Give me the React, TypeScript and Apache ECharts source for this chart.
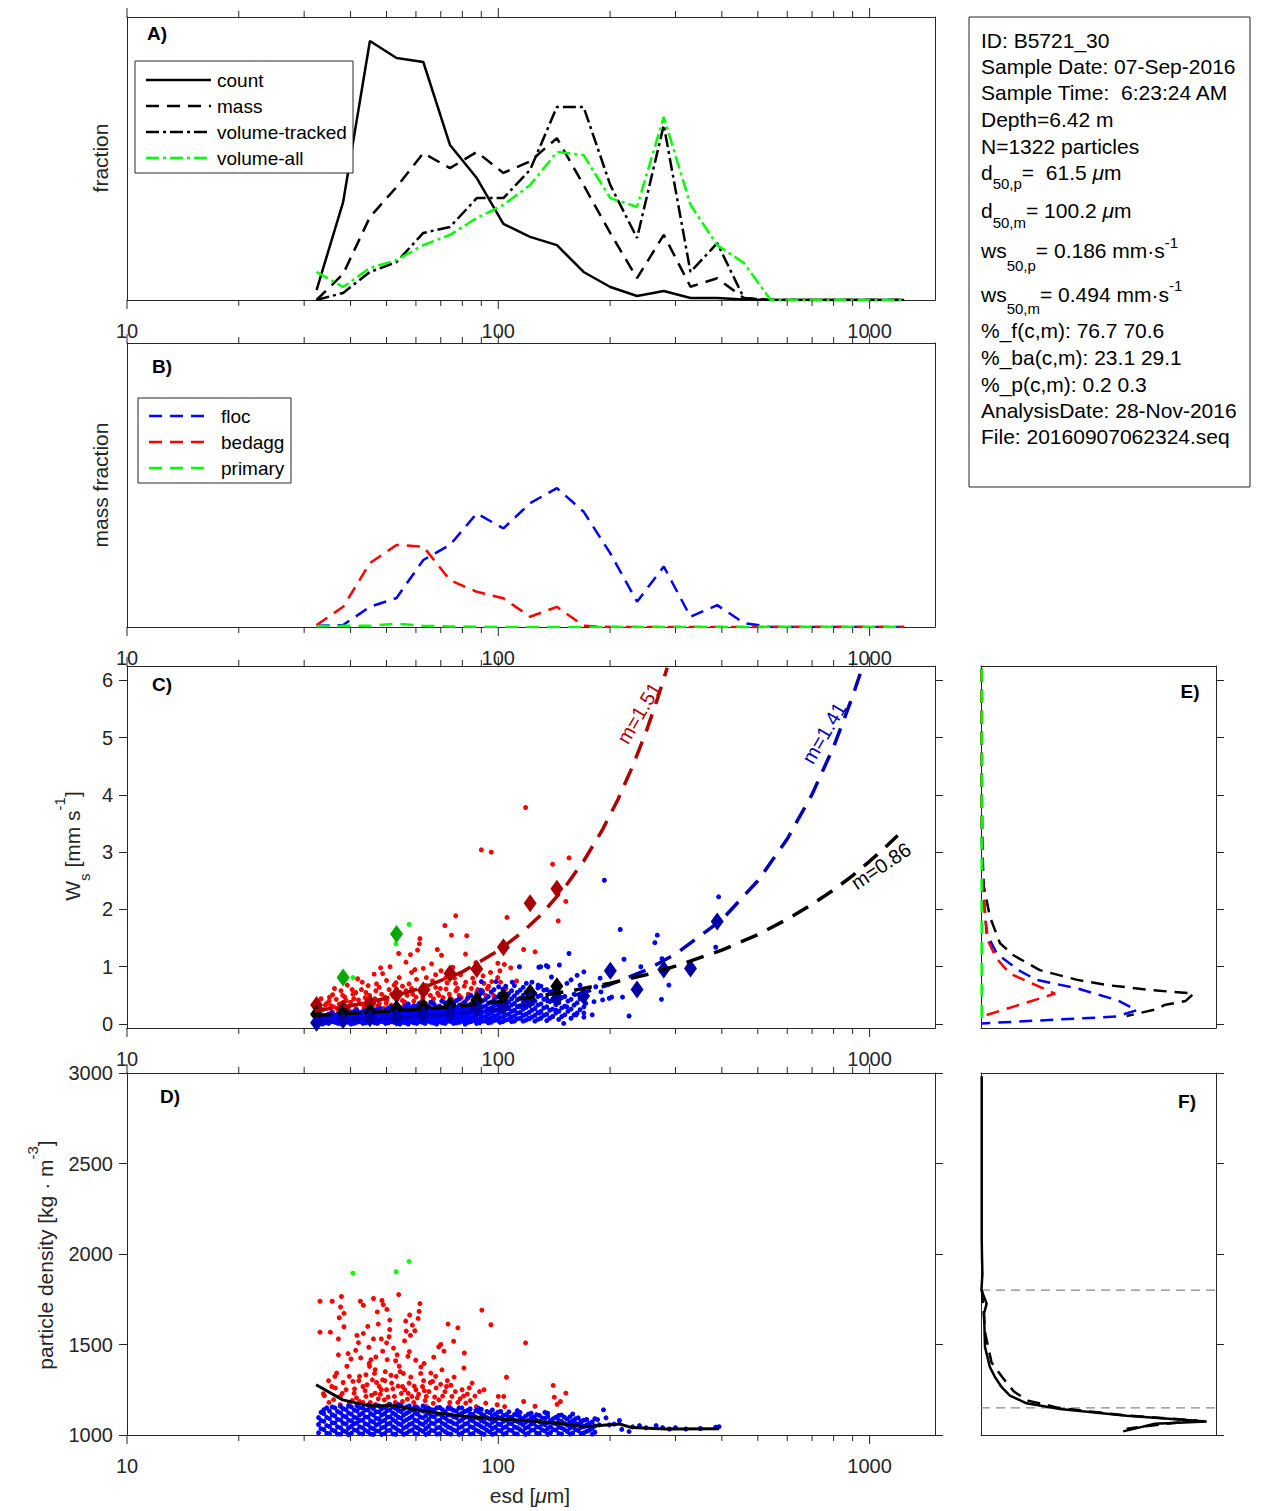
import React, { useEffect, useRef } from "react";
import * as echarts from "echarts";

const FONT = '"Liberation Sans", Arial, Helvetica, sans-serif';
const AX = "#262626";

// ---------------- data ----------------
const binD = [32.4, 38.2, 45.1, 53.2, 62.8, 74.1, 87.5, 103.2, 121.8, 143.8, 169.7, 200.3, 236.4, 279, 329.3, 388.6, 458.6, 541.3, 638.8, 753.9, 889.8, 1050, 1239];
const countFrac = [0.035, 0.346, 0.915, 0.855, 0.841, 0.548, 0.431, 0.269, 0.223, 0.194, 0.099, 0.046, 0.014, 0.032, 0.007, 0.007, 0.002, 0, 0, 0, 0, 0, 0];
const massFrac = [0, 0.092, 0.293, 0.399, 0.519, 0.466, 0.523, 0.449, 0.49, 0.572, 0.406, 0.236, 0.077, 0.23, 0.047, 0.077, 0.007, 0, 0, 0, 0, 0, 0];
const volTrackedFrac = [0, 0.025, 0.099, 0.134, 0.237, 0.258, 0.36, 0.36, 0.46, 0.682, 0.682, 0.406, 0.219, 0.618, 0.099, 0.201, 0.007, 0, 0, 0, 0, 0, 0];
const volAllFrac = [0.099, 0.046, 0.113, 0.141, 0.194, 0.23, 0.29, 0.336, 0.406, 0.523, 0.512, 0.36, 0.329, 0.647, 0.336, 0.194, 0.131, 0, 0, 0, 0, 0, 0];

const flocFrac = [0.004, 0.007, 0.071, 0.102, 0.236, 0.289, 0.4, 0.347, 0.436, 0.489, 0.406, 0.259, 0.089, 0.213, 0.036, 0.077, 0.014, 0, 0, 0, 0, 0, 0];
const bedaggFrac = [0.007, 0.071, 0.225, 0.289, 0.283, 0.165, 0.124, 0.101, 0.036, 0.071, 0.004, 0, 0, 0, 0, 0, 0, 0, 0, 0, 0, 0, 0];
const primaryFrac = [0.003, 0.004, 0.004, 0.012, 0.004, 0.002, 0.001, 0, 0, 0, 0, 0, 0, 0, 0, 0, 0, 0, 0, 0, 0, 0, 0];

// panel C: binned means (diamonds)
const redDiaWs = [0.33, 0.27, 0.36, 0.51, 0.59, 0.88, 0.96, 1.34, 2.11, 2.36];
const blackDiaWs = [0.17, 0.2, 0.21, 0.27, 0.3, 0.33, 0.42, 0.48, 0.55, 0.66];
const blueDiaWs = [0.02, 0.07, 0.1, 0.11, 0.16, 0.19, 0.27, 0.31, 0.42, 0.45, 0.49, 0.93, 0.6, 0.95, 0.97, 1.79];
const greenDia = [[38.2, 0.81], [53.2, 1.57]];

// panel C: fitted curves
const redFit = [[32, 0.23], [40, 0.32], [50, 0.45], [63, 0.64], [80, 0.91], [100, 1.28], [116, 1.6], [130, 1.9], [150, 2.36], [170, 2.85], [190, 3.37], [210, 3.92], [230, 4.5], [250, 5.1], [270, 5.73], [285, 6.22]];
const blueFit = [[32, 0.05], [50, 0.1], [63, 0.135], [80, 0.19], [100, 0.26], [130, 0.37], [160, 0.5], [200, 0.69], [250, 0.94], [300, 1.22], [400, 1.82], [500, 2.5], [600, 3.23], [700, 4.01], [800, 4.84], [900, 5.72], [955, 6.22]];
const blackFit = [[32, 0.15], [50, 0.22], [63, 0.26], [80, 0.32], [100, 0.39], [130, 0.49], [160, 0.59], [200, 0.71], [250, 0.86], [300, 1.01], [400, 1.29], [500, 1.56], [600, 1.83], [700, 2.09], [800, 2.34], [900, 2.59], [1000, 2.84], [1100, 3.08], [1190, 3.29]];

// panel C scatter (esd um, ws mm/s)
const redC = [
  [118.4, 3.78], [90, 3.04], [95.7, 3.0], [140, 2.79], [155, 2.9], [152, 2.14], [145, 1.8], [105.5, 1.86], [117, 1.3], [125.6, 1.26],
  [76.8, 1.89], [71.8, 1.72], [74.8, 1.55], [82.2, 1.54], [81.6, 1.22], [68.5, 1.3], [70.3, 1.2], [61.5, 1.49], [61.3, 1.4], [60.6, 1.29],
  [58, 1.21], [53.9, 1.23], [56.4, 1.08], [59.6, 0.95], [51.1, 1.0], [48.8, 0.88], [46.3, 0.87], [43, 0.73], [40.4, 0.6], [37.7, 0.58],
  [35.8, 0.51], [33.3, 0.44], [87, 1.07], [87.2, 0.99], [99.7, 1.06], [103.8, 1.04], [101, 0.93], [99.6, 0.81], [101.4, 0.73], [91.5, 0.71],
  [81.7, 0.73], [76.7, 0.71], [72.3, 0.81], [66.5, 0.75], [67.8, 0.64], [64, 0.67], [57.5, 0.7], [53.1, 0.61], [50, 0.76], [47.8, 0.64],
  [44, 0.55], [41.3, 0.55], [38.9, 0.41], [37.3, 0.35], [35.1, 0.47], [35.4, 0.32], [33, 0.29], [45.3, 0.38], [49.5, 0.47], [55.2, 0.41],
  [60, 0.47], [69.2, 0.5], [76.9, 0.58], [87.5, 0.55], [90.6, 0.58], [42.5, 0.35], [52.3, 0.26], [57.5, 0.23], [65.2, 0.32], [72.3, 0.35],
  [39.7, 0.23], [35.8, 0.2], [33, 0.19], [46.8, 0.23], [82.5, 0.44], [92.5, 0.5], [54.1, 0.81], [46.8, 0.58], [56.4, 0.58], [64, 0.81],
  [72.3, 0.61], [51.6, 0.52], [38.1, 0.5], [43.3, 0.35], [75.4, 0.99], [34.5, 0.36], [36.8, 0.27], [40.8, 0.44], [43.8, 0.46], [47.3, 0.31],
  [49.9, 0.36], [53.3, 0.44], [55.8, 0.33], [58.8, 0.52], [62.1, 0.39], [63.8, 0.55], [66.9, 0.44], [70.4, 0.4], [74.2, 0.45], [78.4, 0.5],
  [80.2, 0.36], [84.6, 0.62], [88.8, 0.42], [94.2, 0.66], [97.1, 0.5], [48.2, 0.98], [44.6, 0.67], [52.4, 0.68], [58.4, 0.9], [62.8, 0.97],
  [66.1, 1.05], [70.1, 0.93], [79.1, 0.86], [85.3, 0.8], [95.3, 0.9], [104.8, 0.62], [112, 0.75], [108, 0.98], [41.8, 0.79], [39.2, 0.68], [36.2, 0.62],
  [33.6, 0.25], [34.2, 0.33], [35, 0.4], [36, 0.3], [36.6, 0.43], [37.2, 0.25], [38, 0.37], [38.6, 0.47], [39.5, 0.3], [40, 0.38],
  [40.6, 0.52], [41.4, 0.27], [42, 0.42], [42.8, 0.6], [43.5, 0.29], [44.2, 0.39], [45, 0.5], [45.8, 0.28], [46.5, 0.44], [47, 0.7],
  [47.8, 0.36], [48.5, 0.52], [49.2, 0.27], [50, 0.41], [50.8, 0.6], [51.5, 0.33], [52.2, 0.48], [53, 0.72], [53.6, 0.3], [54.4, 0.55],
  [55.2, 0.66], [56, 0.38], [56.8, 0.5], [57.6, 0.3], [58.4, 0.62], [59.2, 0.4], [60.2, 0.78], [61, 0.34], [61.8, 0.58], [62.6, 0.46],
  [63.6, 0.36], [64.6, 0.6], [65.6, 0.5], [66.6, 0.38], [67.8, 0.86], [68.6, 0.54], [69.8, 0.62], [71, 0.46], [72.8, 0.72], [73.8, 0.52],
  [75.2, 0.42], [76.2, 0.8], [77.6, 0.62], [79.4, 0.46], [81, 0.66], [83, 0.52], [86, 0.72], [88, 0.6], [91, 0.84], [93.5, 0.62], [96, 0.74],
];
const greenC = [[40.6, 0.81], [57.5, 1.74], [53, 1.4]];
const blueCCols = [
  [32.5, [0.02, 0.08, 0.14]], [33.6, [0.05, 0.11, 0.0]], [34.9, [0.01, 0.07, 0.13, 0.17]], [36.3, [0.03, 0.1, 0.15]],
  [37.8, [0.0, 0.05, 0.11, 0.17, 0.21]], [39.3, [0.03, 0.08, 0.14, 0.19]], [40.9, [0.01, 0.06, 0.12, 0.16, 0.22]], [42.4, [0.04, 0.09, 0.15, 0.2]],
  [44.0, [0.02, 0.07, 0.12, 0.18, 0.24]], [45.6, [0.05, 0.1, 0.16, 0.21]], [47.2, [0.01, 0.07, 0.13, 0.19, 0.25]], [48.9, [0.04, 0.09, 0.15, 0.21]],
  [50.6, [0.02, 0.06, 0.11, 0.17, 0.23, 0.28]], [52.4, [0.03, 0.08, 0.14, 0.2, 0.26]], [54.3, [0.0, 0.05, 0.1, 0.16, 0.22, 0.29]], [56.2, [0.02, 0.07, 0.13, 0.19, 0.25, 0.32]],
  [58.2, [0.04, 0.09, 0.15, 0.21, 0.28]], [60.3, [0.01, 0.06, 0.12, 0.18, 0.24, 0.31]], [62.4, [0.03, 0.09, 0.15, 0.21, 0.27, 0.34]], [64.7, [0.05, 0.11, 0.17, 0.23, 0.3]],
  [67.0, [0.02, 0.08, 0.14, 0.2, 0.26, 0.35]], [69.4, [0.04, 0.1, 0.17, 0.23, 0.31]], [71.9, [0.01, 0.07, 0.13, 0.2, 0.27, 0.37]], [74.5, [0.04, 0.1, 0.17, 0.24, 0.32]],
  [77.2, [0.02, 0.08, 0.15, 0.22, 0.29, 0.41]], [80.0, [0.05, 0.12, 0.19, 0.26, 0.34]], [82.9, [0.03, 0.09, 0.16, 0.24, 0.31, 0.46]], [85.9, [0.06, 0.13, 0.21, 0.29, 0.39]],
  [89.0, [0.02, 0.09, 0.17, 0.25, 0.36, 0.51]], [92.3, [0.05, 0.13, 0.22, 0.31, 0.43]], [95.7, [0.03, 0.1, 0.19, 0.28, 0.38, 0.56]], [99.2, [0.07, 0.15, 0.24, 0.34, 0.47]],
  [102.8, [0.04, 0.12, 0.21, 0.31, 0.42, 0.61]], [106.6, [0.08, 0.17, 0.27, 0.39, 0.53]], [110.5, [0.05, 0.14, 0.24, 0.36, 0.49, 0.67]], [114.6, [0.1, 0.2, 0.32, 0.45, 0.59]],
  [118.8, [0.07, 0.17, 0.29, 0.41, 0.55]], [123.2, [0.12, 0.24, 0.37, 0.51, 0.73]], [127.8, [0.08, 0.2, 0.33, 0.48, 0.63]], [132.6, [0.15, 0.28, 0.43, 0.59]],
  [137.6, [0.1, 0.24, 0.39, 0.56]], [142.8, [0.19, 0.34, 0.51]], [148.2, [0.13, 0.28, 0.46]], [154, [0.22, 0.4]], [160, [0.16, 0.33, 0.52]], [166, [0.25, 0.44]],
];
const blueCCols2 = [
  [33.0, [0.04, 0.1, 0.16]], [34.2, [0.02, 0.08, 0.14]], [35.6, [0.04, 0.1, 0.16, 0.2]], [37.0, [0.01, 0.07, 0.13, 0.18]],
  [38.5, [0.03, 0.08, 0.14, 0.19]], [40.1, [0.0, 0.05, 0.1, 0.15, 0.2]], [41.6, [0.03, 0.08, 0.13, 0.18, 0.24]], [43.2, [0.01, 0.06, 0.11, 0.17, 0.22]],
  [44.8, [0.04, 0.09, 0.14, 0.2, 0.26]], [46.4, [0.02, 0.08, 0.13, 0.18, 0.24]], [48.0, [0.04, 0.1, 0.16, 0.22, 0.28]], [49.7, [0.01, 0.07, 0.12, 0.18, 0.24]],
  [51.5, [0.04, 0.1, 0.16, 0.22, 0.3]], [53.3, [0.01, 0.06, 0.11, 0.17, 0.23, 0.31]], [55.2, [0.03, 0.08, 0.14, 0.2, 0.26]], [57.2, [0.0, 0.05, 0.1, 0.16, 0.22, 0.29, 0.35]],
  [59.2, [0.02, 0.07, 0.13, 0.19, 0.25, 0.32]], [61.3, [0.04, 0.09, 0.15, 0.21, 0.27, 0.36]], [63.5, [0.01, 0.06, 0.12, 0.18, 0.25, 0.32]], [65.8, [0.03, 0.08, 0.14, 0.2, 0.27, 0.38]],
  [68.2, [0.0, 0.05, 0.11, 0.17, 0.24, 0.3]], [70.6, [0.02, 0.08, 0.15, 0.21, 0.28, 0.4]], [73.2, [0.05, 0.11, 0.18, 0.25, 0.34]], [75.8, [0.01, 0.06, 0.13, 0.2, 0.27, 0.36]],
  [78.6, [0.03, 0.1, 0.17, 0.24, 0.33, 0.44]], [81.4, [0.0, 0.07, 0.14, 0.21, 0.29, 0.39]], [84.4, [0.04, 0.11, 0.19, 0.27, 0.35, 0.5]], [87.4, [0.01, 0.08, 0.16, 0.24, 0.33, 0.44]],
  [90.6, [0.05, 0.13, 0.21, 0.3, 0.4, 0.55]], [94, [0.02, 0.09, 0.17, 0.26, 0.36, 0.48]], [97.4, [0.06, 0.14, 0.23, 0.32, 0.43, 0.6]], [101, [0.03, 0.11, 0.2, 0.29, 0.39, 0.52]],
  [104.7, [0.07, 0.16, 0.26, 0.36, 0.48, 0.66]], [108.6, [0.04, 0.12, 0.22, 0.33, 0.44, 0.58]], [112.5, [0.09, 0.19, 0.3, 0.42, 0.55]], [116.7, [0.05, 0.15, 0.26, 0.38, 0.5, 0.64]],
  [121, [0.09, 0.2, 0.33, 0.46, 0.6]], [125.5, [0.05, 0.15, 0.27, 0.4, 0.53]], [130.2, [0.1, 0.22, 0.35, 0.5, 0.66]], [135, [0.06, 0.17, 0.3, 0.45, 0.6]],
  [140, [0.13, 0.26, 0.41, 0.57]], [145.5, [0.08, 0.22, 0.37, 0.52]], [151, [0.16, 0.31, 0.48]], [157, [0.1, 0.26, 0.43]], [163, [0.19, 0.37]], [170, [0.12, 0.3, 0.48]],
];
const blueCSparse = [
  [193, 2.51], [392, 2.22], [213, 1.65], [268, 1.55], [264, 1.42], [218, 1.13], [155, 1.23], [385, 1.34], [276, 1.14], [242, 1.0],
  [288, 0.68], [275, 0.43], [225, 0.14], [216, 0.47], [202, 0.47], [191, 0.42], [179, 0.16], [170, 0.19], [150, 0.01], [166, 0.68],
  [163, 0.85], [170, 0.91], [188, 0.8], [153, 0.71], [139, 0.82], [130, 1.0], [128, 0.68], [114, 1.0], [119, 0.71], [136, 1.0],
  [146, 1.03], [199, 0.45], [172, 0.36], [162, 0.16], [143, 0.24], [129, 0.19], [140, 0.13], [121, 0.1], [114, 0.3], [153, 0.3],
  [181, 0.39], [189, 0.56], [183, 0.65], [109, 0.73], [134.6, 1.02], [128.6, 0.99], [100.2, 0.65], [98.6, 0.74], [89.5, 0.59], [90, 0.74], [157, 0.77],
];

// panel D scatter (esd um, density kg/m3)
const redD = [
  [33.1, 1739], [35.7, 1739], [37.8, 1765], [37.6, 1707], [38.4, 1672], [37.3, 1648], [38.4, 1598], [37.1, 1531], [37.1, 1443], [33.1, 1568],
  [35.3, 1568], [42.5, 1739], [43.3, 1717], [46.1, 1754], [48.6, 1743], [50.1, 1694], [47.5, 1613], [46.1, 1531], [43.3, 1561], [41.6, 1550],
  [41.3, 1468], [48.4, 1531], [51, 1635], [53.9, 1776], [51, 1583], [50.8, 1543], [50, 1509], [48.8, 1463], [56.3, 1629], [57.7, 1663],
  [59.6, 1576], [60.8, 1644], [61.2, 1683], [61.5, 1726], [58.7, 1607], [56.5, 1574], [57.6, 1461], [57.1, 1435], [53.4, 1443], [44.8, 1485],
  [42.6, 1426], [45.4, 1416], [46.8, 1431], [45, 1380], [46.6, 1361], [50.2, 1416], [54.1, 1380], [59.9, 1413], [61.9, 1376], [73.2, 1613],
  [75.8, 1518], [77.8, 1592], [69.1, 1487], [70, 1500], [71.4, 1463], [81, 1453], [80.8, 1370], [85, 1287], [90.3, 1690], [95.5, 1609],
  [105.2, 1319], [118.4, 1509], [140.5, 1274], [141.5, 1209], [144, 1170], [147, 1185], [152, 1231], [125.6, 1159], [117, 1185], [100, 1213],
  [103.4, 1213], [99.3, 1167], [104, 1157], [91.5, 1250], [89, 1240], [82.5, 1226], [79.9, 1250], [75, 1213], [72.5, 1268], [66.5, 1296],
  [67.8, 1324], [62.5, 1268], [65.8, 1342], [64, 1213], [60, 1250], [57.5, 1287], [55.2, 1268], [53.1, 1324], [51.6, 1287], [50, 1250],
  [48.8, 1305], [47.8, 1268], [45.8, 1305], [44, 1333], [43.2, 1268], [42.3, 1324], [40.6, 1296], [39.7, 1324], [40.9, 1231], [38.9, 1250],
  [37.5, 1213], [36.3, 1324], [36.7, 1342], [35.6, 1268], [33.8, 1228], [34, 1218], [44, 1213], [46.6, 1231], [49.3, 1194], [52.5, 1213],
  [55.2, 1185], [58.5, 1213], [64, 1157], [69.2, 1194], [73.7, 1157], [81.7, 1176], [87.2, 1157], [92.5, 1176], [37.5, 1167], [39.7, 1176],
  [42.3, 1185], [46.6, 1167], [54.1, 1157], [60, 1157], [41.5, 1205], [43.8, 1245], [45.2, 1180], [47, 1290], [48.1, 1225], [50.8, 1170],
  [52, 1255], [54.8, 1230], [56.9, 1198], [58.1, 1320], [59.2, 1180], [61, 1225], [62.9, 1300], [63.5, 1190], [65, 1240], [66.8, 1175],
  [68, 1260], [70.8, 1215], [72.9, 1300], [74, 1180], [76.6, 1240], [78.9, 1200], [84, 1190], [86.5, 1215], [38.2, 1290], [39.1, 1380],
  [40.1, 1420], [44.9, 1395], [49.6, 1350], [52.9, 1410], [55.5, 1340], [63.1, 1395], [67, 1430], [70.5, 1360], [76, 1320], [34.9, 1300],
  [36, 1195], [39.4, 1450], [42, 1510], [44.5, 1600], [47.2, 1680], [49, 1720], [52.2, 1480], [55.9, 1520], [58, 1550],
  [40.4, 1190], [41, 1255], [42.1, 1300], [43.2, 1180], [44.3, 1278], [45.6, 1220], [46.4, 1340], [47.5, 1200], [48.4, 1250], [49.5, 1300],
  [50.5, 1210], [51.4, 1330], [52.8, 1180], [53.7, 1270], [54.4, 1350], [56, 1250], [57.2, 1230], [59.4, 1270], [60.5, 1205], [61.8, 1340],
  [63.2, 1245], [65.6, 1290], [67.4, 1210], [69.9, 1280], [71.8, 1240], [74.5, 1275], [77.8, 1180], [80.6, 1215], [83.5, 1260], [38, 1230],
  [36.4, 1260], [35, 1180],
];
const greenD = [[40.6, 1894], [53.1, 1902], [57.5, 1959]];
const blueDCols = [
  [32.8, [1012, 1058, 1096]], [33.9, [1030, 1075, 1118, 1140]], [35.1, [1008, 1047, 1090, 1132]], [36.3, [1022, 1066, 1105, 1150]],
  [37.6, [1005, 1040, 1083, 1122, 1158]], [38.9, [1018, 1060, 1100, 1140]], [40.2, [1009, 1048, 1078, 1115, 1155]], [41.6, [1025, 1066, 1094, 1133, 1162]],
  [43.1, [1006, 1040, 1082, 1120, 1150]], [44.6, [1018, 1057, 1098, 1138, 1165]], [46.1, [1003, 1035, 1072, 1110, 1145]], [47.7, [1021, 1062, 1090, 1128, 1160]],
  [49.4, [1008, 1044, 1080, 1118, 1152]], [51.1, [1026, 1065, 1100, 1138, 1168]], [52.9, [1004, 1038, 1075, 1112, 1147]], [54.7, [1019, 1057, 1093, 1130, 1163]],
  [56.6, [1009, 1046, 1084, 1120, 1155]], [58.6, [1027, 1064, 1102, 1140]], [60.6, [1006, 1040, 1078, 1116, 1150]], [62.7, [1020, 1058, 1095, 1132, 1160]],
  [64.9, [1010, 1048, 1086, 1122, 1148]], [67.2, [1024, 1062, 1100, 1138]], [69.5, [1007, 1042, 1080, 1115, 1152]], [72.0, [1018, 1056, 1093, 1128]],
  [74.5, [1005, 1038, 1074, 1110, 1145]], [77.1, [1022, 1060, 1096, 1132]], [79.8, [1010, 1046, 1083, 1120, 1150]], [82.6, [1026, 1064, 1100, 1136]],
  [85.5, [1008, 1041, 1078, 1114]], [88.5, [1020, 1057, 1092, 1128, 1148]], [91.6, [1004, 1038, 1073, 1108]], [94.8, [1017, 1052, 1088, 1124]],
  [98.1, [1008, 1043, 1080, 1115]], [101.5, [1023, 1058, 1094, 1130]], [105, [1010, 1046, 1082, 1112]], [108.7, [1025, 1062, 1098]],
  [112.5, [1006, 1040, 1075, 1110, 1135]], [116.4, [1020, 1056, 1090]], [120.5, [1010, 1045, 1080, 1115]], [124.7, [1028, 1063, 1098]],
  [129, [1008, 1042, 1074, 1108]], [133.5, [1022, 1058, 1092, 1125]], [138.2, [1012, 1046, 1080]], [143, [1027, 1062, 1098]],
  [148, [1006, 1040, 1075, 1110]], [153.2, [1020, 1055, 1088]], [158.6, [1010, 1044, 1078, 1116]], [164.2, [1025, 1060, 1095]],
  [170, [1012, 1048, 1082]], [176, [1028, 1064]], [182, [1015, 1050, 1090]],
];
const blueDCols2 = [
  [33.3, [1035, 1080, 1125]], [34.5, [1010, 1052, 1097, 1150]], [35.7, [1028, 1068, 1112, 1155]], [36.9, [1005, 1045, 1086, 1130]],
  [38.2, [1024, 1065, 1105, 1145]], [39.5, [1002, 1038, 1082, 1122, 1160]], [40.9, [1028, 1062, 1098, 1138]], [42.3, [1008, 1045, 1080, 1112, 1150]],
  [43.8, [1026, 1062, 1100, 1138]], [45.3, [1005, 1040, 1078, 1118, 1158]], [46.9, [1022, 1055, 1092, 1128, 1165]], [48.5, [1003, 1040, 1075, 1110, 1145]],
  [50.2, [1024, 1060, 1098, 1135, 1162]], [52, [1006, 1046, 1085, 1120, 1155]], [53.8, [1026, 1062, 1098, 1136, 1168]], [55.6, [1004, 1038, 1075, 1110, 1145]],
  [57.6, [1022, 1058, 1093, 1130, 1160]], [59.6, [1008, 1045, 1082, 1120, 1155]], [61.6, [1028, 1064, 1100, 1138]], [63.8, [1003, 1036, 1072, 1108, 1145]],
  [66, [1026, 1066, 1104, 1140]], [68.3, [1005, 1040, 1078, 1115, 1150]], [70.7, [1028, 1064, 1100, 1140]], [73.2, [1008, 1044, 1078, 1112, 1148]],
  [75.8, [1028, 1064, 1100, 1136]], [78.4, [1004, 1040, 1076, 1112, 1150]], [81.2, [1024, 1060, 1096, 1130]], [84, [1006, 1046, 1082, 1118, 1145]],
  [87, [1028, 1062, 1098, 1135]], [90, [1010, 1046, 1080, 1116, 1142]], [93.2, [1026, 1060, 1096, 1130]], [96.4, [1004, 1036, 1070, 1106, 1138]],
  [99.8, [1026, 1060, 1098, 1126]], [103.2, [1005, 1040, 1076, 1108]], [106.8, [1028, 1064, 1098, 1128]], [110.6, [1008, 1044, 1080, 1114]],
  [114.4, [1030, 1066, 1100, 1125]], [118.4, [1004, 1038, 1070, 1104]], [122.6, [1026, 1060, 1094, 1120]], [126.8, [1010, 1046, 1080, 1112]],
  [131.2, [1028, 1060, 1094]], [135.8, [1004, 1036, 1068, 1102, 1120]], [140.6, [1030, 1066, 1090]], [145.5, [1008, 1044, 1080, 1108]],
  [150.6, [1030, 1064, 1098]], [155.9, [1005, 1038, 1070, 1100]], [161.4, [1030, 1064, 1090]], [167, [1008, 1042, 1076]],
  [173, [1020, 1056, 1086]], [179, [1005, 1040, 1072]],
];
const blueDSparse = [
  [158.5, 1074], [167, 1068], [170, 1046], [176, 1028], [179, 1037], [187, 1056], [192, 1139], [199, 1056], [212, 1080], [215, 1031],
  [225, 1019], [240, 1052], [266, 1052], [277, 1041], [289, 1033], [320, 1033], [385, 1043], [393, 1046], [195, 1095], [205, 1060],
  [185, 1085], [230, 1045], [250, 1040], [300, 1040], [350, 1036],
];
const densityMean = [[32.3, 1278], [38.1, 1194], [44.9, 1161], [53.1, 1161], [60, 1139], [69.2, 1120], [81.7, 1102], [100.4, 1089], [123.4, 1078], [151.7, 1061], [170, 1046], [199, 1056], [212, 1061], [229, 1041], [282, 1033], [393, 1035]];

// panel E (fraction, ws)
const eBlack = [[0.004, 6.2], [0.004, 4.0], [0.006, 3.0], [0.012, 2.4], [0.038, 1.87], [0.081, 1.41], [0.138, 1.2], [0.25, 0.94], [0.41, 0.77], [0.535, 0.68], [0.73, 0.59], [0.905, 0.53], [0.87, 0.4], [0.78, 0.33], [0.75, 0.26], [0.62, 0.14]];
const eBlue = [[0.003, 6.2], [0.003, 3.3], [0.01, 2.28], [0.024, 1.58], [0.067, 1.23], [0.159, 0.94], [0.237, 0.77], [0.41, 0.62], [0.577, 0.42], [0.663, 0.24], [0.577, 0.13], [0.003, 0.01]];
const eRed = [[0.002, 6.2], [0.003, 3.5], [0.006, 2.9], [0.01, 2.3], [0.02, 1.8], [0.03, 1.45], [0.065, 1.15], [0.123, 0.88], [0.315, 0.53], [0.003, 0.13]];
const eGreen = [[0.003, 6.2], [0.003, 0.0]];

// panel F (fraction, density)
const fSolid = [[0.003, 2982], [0.003, 2500], [0.003, 2100], [0.004, 2003], [0.006, 1892], [0.002, 1800], [0.024, 1726], [0.013, 1671], [0.017, 1486], [0.038, 1375], [0.06, 1319], [0.088, 1264], [0.123, 1218], [0.194, 1175], [0.336, 1144], [0.62, 1107], [0.96, 1075], [0.74, 1062], [0.605, 1020]];
const fDashed = [[0.004, 1800], [0.01, 1700], [0.018, 1560], [0.045, 1400], [0.09, 1320], [0.14, 1240], [0.2, 1190], [0.33, 1150], [0.6, 1110], [0.92, 1080], [0.83, 1068], [0.62, 1035]];
const densThresholds = [1800, 1150];

// axes ticks
const majorTicks = [10, 100, 1000];
const minorTicks = [20, 30, 40, 50, 60, 70, 80, 90, 200, 300, 400, 500, 600, 700, 800, 900];
const wsTicks = [0, 1, 2, 3, 4, 5, 6];

const infoText = [
  "ID: B5721_30",
  "Sample Date: 07-Sep-2016",
  "Sample Time:  6:23:24 AM",
  "Depth=6.42 m",
  "N=1322 particles",
  "{n|d}{sb|50,p}{n|=  61.5 }{mu|μ}{n|m}",
  "{n|d}{sb|50,m}{n|= 100.2 }{mu|μ}{n|m}",
  "{n|ws}{sb|50,p}{n|= 0.186 mm·s}{sp|-1}",
  "{n|ws}{sb|50,m}{n|= 0.494 mm·s}{sp|-1}",
  "%_f(c,m): 76.7 70.6",
  "%_ba(c,m): 23.1 29.1",
  "%_p(c,m): 0.2 0.3",
  "AnalysisDate: 28-Nov-2016",
  "File: 20160907062324.seq",
];

// ---------------- option ----------------
function colsToPts(cols: any[]) {
  const out: number[][] = [];
  cols.forEach(([d, vs]: any) => vs.forEach((v: number) => out.push([d, v])));
  return out;
}

function fmtLog(v: number) {
  const l = Math.log10(v);
  return Math.abs(l - Math.round(l)) < 1e-6 ? String(Math.round(v)) : "";
}

function buildOption() {
  const gridsRaw = [
    { left: 127, top: 17, width: 808, height: 283 },
    { left: 127, top: 343, width: 808, height: 284 },
    { left: 127, top: 666, width: 808, height: 362 },
    { left: 127, top: 1073, width: 808, height: 362 },
    { left: 981, top: 666, width: 235, height: 362 },
    { left: 981, top: 1073, width: 235, height: 362 },
  ];
  const grid = gridsRaw.map((g) => ({ ...g, containLabel: false, outerBoundsMode: "none" }));
  const yr = [[0, 1], [0, 1], [-0.07, 6.25], [1000, 3000], [-0.07, 6.25], [1000, 3000]];
  const axLine = { show: true, onZero: false, lineStyle: { color: AX, width: 1 } };
  const lbl = { fontSize: 20, fontFamily: FONT, color: AX };
  const noSplit = { show: false };

  const xAxis: any[] = [];
  for (let g = 0; g < 4; g++) {
    xAxis.push({ type: "log", logBase: 10, min: 10, max: 1500, gridIndex: g, position: "bottom", axisLine: axLine, axisTick: { show: false }, splitLine: noSplit, minorTick: { show: false }, axisLabel: { ...lbl, margin: 21, formatter: fmtLog, showMinLabel: true } });
    xAxis.push({ type: "log", logBase: 10, min: 10, max: 1500, gridIndex: g, position: "top", axisLine: axLine, axisTick: { show: false }, splitLine: noSplit, axisLabel: { show: false } });
  }
  for (let g = 4; g < 6; g++) {
    xAxis.push({ type: "value", min: 0, max: 1, gridIndex: g, position: "bottom", axisLine: axLine, axisTick: { show: false }, splitLine: noSplit, axisLabel: { show: false } });
    xAxis.push({ type: "value", min: 0, max: 1, gridIndex: g, position: "top", axisLine: axLine, axisTick: { show: false }, splitLine: noSplit, axisLabel: { show: false } });
  }

  const yAxis: any[] = [];
  const plainY = (g: number, pos: string) => ({ type: "value", min: yr[g][0], max: yr[g][1], gridIndex: g, position: pos, axisLine: axLine, axisTick: { show: false }, splitLine: noSplit, axisLabel: { show: false } });
  yAxis.push(plainY(0, "left"), plainY(0, "right"), plainY(1, "left"), plainY(1, "right"));
  yAxis.push({ type: "value", min: -0.07, max: 6.25, gridIndex: 2, position: "left", axisLine: axLine, splitLine: noSplit, axisTick: { show: true, length: 8, lineStyle: { color: AX }, customValues: wsTicks }, axisLabel: { ...lbl, margin: 14, customValues: wsTicks } });
  yAxis.push({ type: "value", min: -0.07, max: 6.25, gridIndex: 2, position: "right", axisLine: axLine, splitLine: noSplit, axisTick: { show: true, length: 8, lineStyle: { color: AX }, customValues: wsTicks }, axisLabel: { show: false } });
  yAxis.push({ type: "value", min: 1000, max: 3000, interval: 500, gridIndex: 3, position: "left", axisLine: axLine, splitLine: noSplit, axisTick: { show: true, length: 8, lineStyle: { color: AX } }, axisLabel: { ...lbl, margin: 14, formatter: (v: number) => String(v) } });
  yAxis.push({ type: "value", min: 1000, max: 3000, interval: 500, gridIndex: 3, position: "right", axisLine: axLine, splitLine: noSplit, axisTick: { show: true, length: 8, lineStyle: { color: AX } }, axisLabel: { show: false } });
  yAxis.push(plainY(4, "left"));
  yAxis.push({ type: "value", min: -0.07, max: 6.25, gridIndex: 4, position: "right", axisLine: axLine, splitLine: noSplit, axisTick: { show: true, length: 8, lineStyle: { color: AX }, customValues: wsTicks }, axisLabel: { show: false } });
  yAxis.push(plainY(5, "left"));
  yAxis.push({ type: "value", min: 1000, max: 3000, interval: 500, gridIndex: 5, position: "right", axisLine: axLine, splitLine: noSplit, axisTick: { show: true, length: 8, lineStyle: { color: AX } }, axisLabel: { show: false } });

  const allTicks = [...majorTicks, ...minorTicks];
  const tickSeries = (g: number) => ({
    type: "custom", xAxisIndex: g * 2, yAxisIndex: g * 2, silent: true, z: 5, clip: false,
    data: allTicks.map((v) => [v, yr[g][0]]),
    renderItem: (params: any, api: any) => {
      const v = api.value(0);
      const len = majorTicks.indexOf(v) >= 0 ? 9 : 6;
      const b = api.coord([v, yr[g][0]]);
      const t = api.coord([v, yr[g][1]]);
      const st = { stroke: AX, lineWidth: 1 };
      return {
        type: "group",
        children: [
          { type: "line", shape: { x1: b[0], y1: b[1], x2: b[0], y2: b[1] + len }, style: st },
          { type: "line", shape: { x1: t[0], y1: t[1], x2: t[0], y2: t[1] - len }, style: st },
        ],
      };
    },
  });

  const line = (g: number, data: any[], color: string, width: number, dash: any, z = 3) => ({
    type: "line", xAxisIndex: g * 2, yAxisIndex: g * 2, data, showSymbol: false, symbol: "none", silent: true, z,
    lineStyle: { color, width, type: dash },
  });
  const scat = (g: number, data: any[], color: string, size: any = 5, symbol = "circle", z = 2) => ({
    type: "scatter", xAxisIndex: g * 2, yAxisIndex: g * 2, data, symbol, symbolSize: size, silent: true, z,
    itemStyle: { color, opacity: 1 },
  });
  const bins = (vals: number[]) => vals.map((v, i) => [binD[i], v]);

  const DASH = [13, 8];
  const DASHDOT = [13, 4, 3, 4];
  const DRED = "#a80000";
  const DBLUE = "#0000a8";

  const series: any[] = [
    tickSeries(0), tickSeries(1), tickSeries(2), tickSeries(3),
    line(0, bins(countFrac), "#000", 2.5, "solid"),
    line(0, bins(massFrac), "#000", 2.5, DASH),
    line(0, bins(volTrackedFrac), "#000", 2.5, DASHDOT),
    line(0, bins(volAllFrac), "#00ff00", 2.5, DASHDOT, 4),
    line(1, bins(flocFrac), "#0000ff", 2.5, DASH),
    line(1, bins(bedaggFrac), "#ff0000", 2.5, DASH),
    line(1, bins(primaryFrac), "#00ff00", 2.5, DASH, 4),
    scat(2, redC, "#ff0000"),
    scat(2, greenC, "#00ff00"),
    scat(2, [...colsToPts(blueCCols), ...colsToPts(blueCCols2), ...blueCSparse], "#0000ff"),
    scat(2, redDiaWs.map((v, i) => [binD[i], v]), DRED, [13, 18], "diamond", 4),
    scat(2, blackDiaWs.map((v, i) => [binD[i], v]), "#000", [13, 18], "diamond", 4),
    scat(2, blueDiaWs.map((v, i) => [binD[i], v]), DBLUE, [13, 18], "diamond", 4),
    scat(2, greenDia, "#00a800", [13, 18], "diamond", 4),
    line(2, redFit, "#b00000", 3.5, [18, 11], 5),
    line(2, blueFit, "#0000b8", 3.5, [18, 11], 5),
    line(2, blackFit, "#000", 3.5, [18, 11], 5),
    scat(3, redD, "#ff0000"),
    scat(3, greenD, "#00ff00"),
    scat(3, [...colsToPts(blueDCols), ...colsToPts(blueDCols2), ...blueDSparse], "#0000ff"),
    line(3, densityMean, "#000", 3, "solid", 5),
    line(4, eBlack, "#000", 2.5, DASH),
    line(4, eBlue, "#0000ff", 2.5, DASH),
    line(4, eRed, "#ff0000", 2.5, DASH),
    line(4, eGreen, "#00ff00", 2.5, DASH, 4),
    ...densThresholds.map((t) => line(5, [[0, t], [1, t]], "#888888", 1.2, [9, 6], 2)),
    line(5, fSolid, "#000", 2.5, "solid", 4),
    line(5, fDashed, "#000", 2.5, DASH, 4),
  ];

  const txt = (x: number, y: number, text: string, o: any = {}) => ({
    type: "text", x, y, z: 100, rotation: o.rot || 0, silent: true,
    style: {
      text, fontFamily: FONT, fontSize: o.size || 20, fontWeight: o.weight || "normal", fontStyle: "normal",
      fill: o.color || "#000", align: o.align || "left", textAlign: o.align || "left", verticalAlign: "middle", textVerticalAlign: "middle",
      rich: o.rich,
    },
  });
  const richTitle = {
    n: { fontSize: 21, fontFamily: FONT, lineHeight: 40, fill: AX },
    sb: { fontSize: 15, fontFamily: FONT, lineHeight: 14, verticalAlign: "bottom", fill: AX },
    sp: { fontSize: 15, fontFamily: FONT, lineHeight: 24, verticalAlign: "top", fill: AX },
    mu: { fontSize: 21, fontFamily: FONT, fontStyle: "italic", lineHeight: 40, fill: AX },
  };
  const richD = {
    n: { fontSize: 21, fontFamily: FONT, lineHeight: 38, fill: "#000" },
    sb: { fontSize: 15, fontFamily: FONT, lineHeight: 14, verticalAlign: "bottom", fill: "#000" },
    mu: { fontSize: 21, fontFamily: FONT, fontStyle: "italic", lineHeight: 38, fill: "#000" },
  };
  const richW = {
    n: { fontSize: 21, fontFamily: FONT, lineHeight: 44, fill: "#000" },
    sb: { fontSize: 15, fontFamily: FONT, lineHeight: 16, verticalAlign: "bottom", fill: "#000" },
    sp: { fontSize: 15, fontFamily: FONT, lineHeight: 16, verticalAlign: "top", padding: [6, 0, 0, 0], fill: "#000" },
  };
  const infoY = [40, 66, 92.7, 119.3, 146.7, 172, 210.7, 250.7, 294, 330.7, 357.3, 384, 410, 436.7];

  const legendItem = (x1: number, x2: number, y: number, color: string, dash: any, label: string, tx: number) => [
    { type: "line", z: 101, shape: { x1, y1: y, x2, y2: y }, style: { stroke: color, lineWidth: 2.5, lineDash: dash } },
    txt(tx, y, label, { size: 19 }),
  ];

  const elements: any[] = [
    txt(157, 33, "A)", { weight: "bold", size: 19, align: "center" }),
    txt(162, 366, "B)", { weight: "bold", size: 19, align: "center" }),
    txt(162, 684, "C)", { weight: "bold", size: 19, align: "center" }),
    txt(170, 1096, "D)", { weight: "bold", size: 19, align: "center" }),
    txt(1190, 691, "E)", { weight: "bold", size: 19, align: "center" }),
    txt(1187, 1101, "F)", { weight: "bold", size: 19, align: "center" }),
    txt(100, 158, "fraction", { rot: Math.PI / 2, align: "center", size: 21, color: AX }),
    txt(100, 485, "mass fraction", { rot: Math.PI / 2, align: "center", size: 21, color: AX }),
    txt(72, 846, "{n|W}{sb|s}{n| [mm s}{sp|-1}{n|]}", { rot: Math.PI / 2, align: "center", rich: richTitle }),
    txt(45, 1255, "{n|particle density [kg · m}{sp|-3}{n|]}", { rot: Math.PI / 2, align: "center", rich: richTitle }),
    txt(530, 1495, "{n|esd [}{mu|μ}{n|m]}", { align: "center", rich: richTitle }),
    txt(639, 713, "m=1.51", { rot: 1.04, align: "center", color: "#b00000", size: 20 }),
    txt(824, 733, "m=1.41", { rot: 1.04, align: "center", color: "#0000b8", size: 20 }),
    txt(881, 866, "m=0.86", { rot: 0.59, align: "center", color: "#000", size: 20 }),
    { type: "rect", z: 99, shape: { x: 135, y: 61, width: 218, height: 112 }, style: { fill: "#fff", stroke: AX, lineWidth: 1 } },
    ...legendItem(146, 211, 80, "#000", null, "count", 217),
    ...legendItem(146, 211, 106, "#000", DASH, "mass", 217),
    ...legendItem(146, 211, 132, "#000", DASHDOT, "volume-tracked", 217),
    ...legendItem(146, 211, 158, "#00ff00", DASHDOT, "volume-all", 217),
    { type: "rect", z: 99, shape: { x: 138, y: 398, width: 153, height: 85 }, style: { fill: "#fff", stroke: AX, lineWidth: 1 } },
    ...legendItem(149, 212, 416, "#0000ff", DASH, "floc", 221),
    ...legendItem(149, 212, 442, "#ff0000", DASH, "bedagg", 221),
    ...legendItem(149, 212, 468, "#00ff00", DASH, "primary", 221),
    { type: "rect", z: 99, shape: { x: 969, y: 17, width: 281, height: 470 }, style: { fill: "#fff", stroke: AX, lineWidth: 1 } },
    ...infoText.map((t, i) => txt(981, infoY[i], t, { size: 21, rich: t.indexOf("{n|ws}") === 0 ? richW : t.indexOf("{n|d}") === 0 ? richD : undefined })),
  ];

  return {
    animation: false,
    backgroundColor: "#ffffff",
    textStyle: { fontFamily: FONT },
    grid,
    xAxis,
    yAxis,
    series,
    graphic: { elements },
  };
}

export default function App() {
  const ref = useRef<HTMLDivElement>(null);
  useEffect(() => {
    const chart = echarts.init(ref.current as HTMLDivElement, null, { renderer: "svg" });
    chart.setOption(buildOption() as any);
    return () => chart.dispose();
  }, []);
  return <div ref={ref} style={{ position: "absolute", left: 0, top: 0, width: 1270, height: 1511, background: "#fff" }} />;
}
